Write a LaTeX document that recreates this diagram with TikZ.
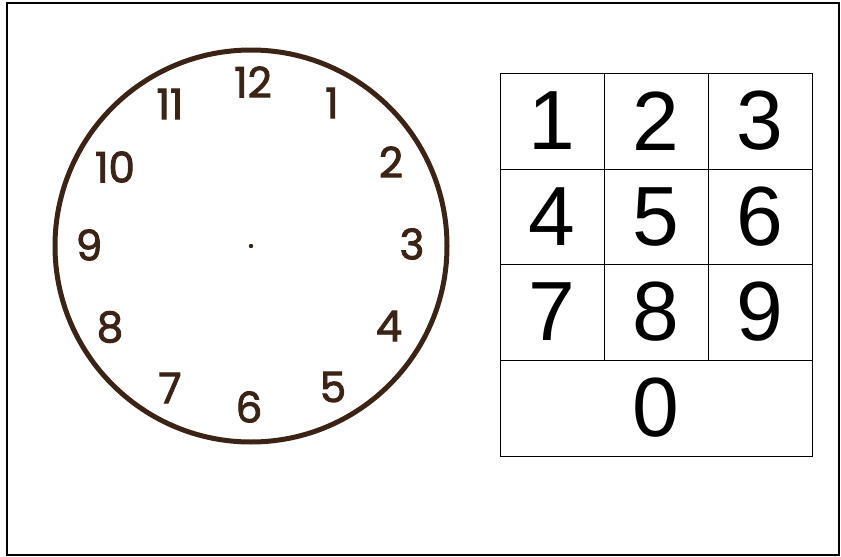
\documentclass[tikz,border=0pt]{standalone}
\usepackage{fontspec}
\newfontfamily\clockfont[FakeBold=2.2]{Poppins}
\newfontfamily\keyfont{Liberation Sans}
\definecolor{clockbrown}{HTML}{3B2416}
\begin{document}
\begin{tikzpicture}[x=1pt,y=-1pt,
  hour/.style={font=\clockfont\fontsize{42}{42}\selectfont, text=clockbrown, inner sep=0pt},
  key/.style={font=\keyfont\fontsize{84}{84}\selectfont, inner sep=0pt},
  cell/.style={draw=black, line width=0.8pt}]
\useasboundingbox (0,0) rectangle (841,557);
\draw[line width=2pt] (7,3) rectangle (839,555);
% clock
\node[circle, draw=clockbrown, line width=5pt, minimum size=392pt, inner sep=0pt] (face) at (251,246) {};
\fill[clockbrown] (251,246) circle (2.2pt);
\node[hour] (h12) at (253,82) {12};
\node[hour] (h1) at (332,103) {1};
\node[hour] (h2) at (391,162) {2};
\node[hour] (h3) at (412,244) {3};
\node[hour] (h4) at (389,326) {4};
\node[hour] (h5) at (333,387) {5};
\node[hour] (h6) at (249,407) {6};
\node[hour] (h7) at (170,388) {7};
\node[hour] (h8) at (110,327) {8};
\node[hour] (h9) at (89,245) {9};
\node[hour] (h10) at (115,167) {10};
\node[hour] (h11) at (170,104) {11};
% keypad
\draw[cell] (500,73) rectangle (812,456);
\draw[cell] (500,169) -- (812,169);
\draw[cell] (500,264) -- (812,264);
\draw[cell] (500,360) -- (812,360);
\draw[cell] (604,73) -- (604,360);
\draw[cell] (708,73) -- (708,360);
\node[key] (k1) at (552,121) {1};
\node[key] (k2) at (656,121) {2};
\node[key] (k3) at (760,121) {3};
\node[key] (k4) at (552,217) {4};
\node[key] (k5) at (656,217) {5};
\node[key] (k6) at (760,217) {6};
\node[key] (k7) at (552,312) {7};
\node[key] (k8) at (656,312) {8};
\node[key] (k9) at (760,312) {9};
\node[key] (k0) at (656,408) {0};
\end{tikzpicture}
\end{document}
